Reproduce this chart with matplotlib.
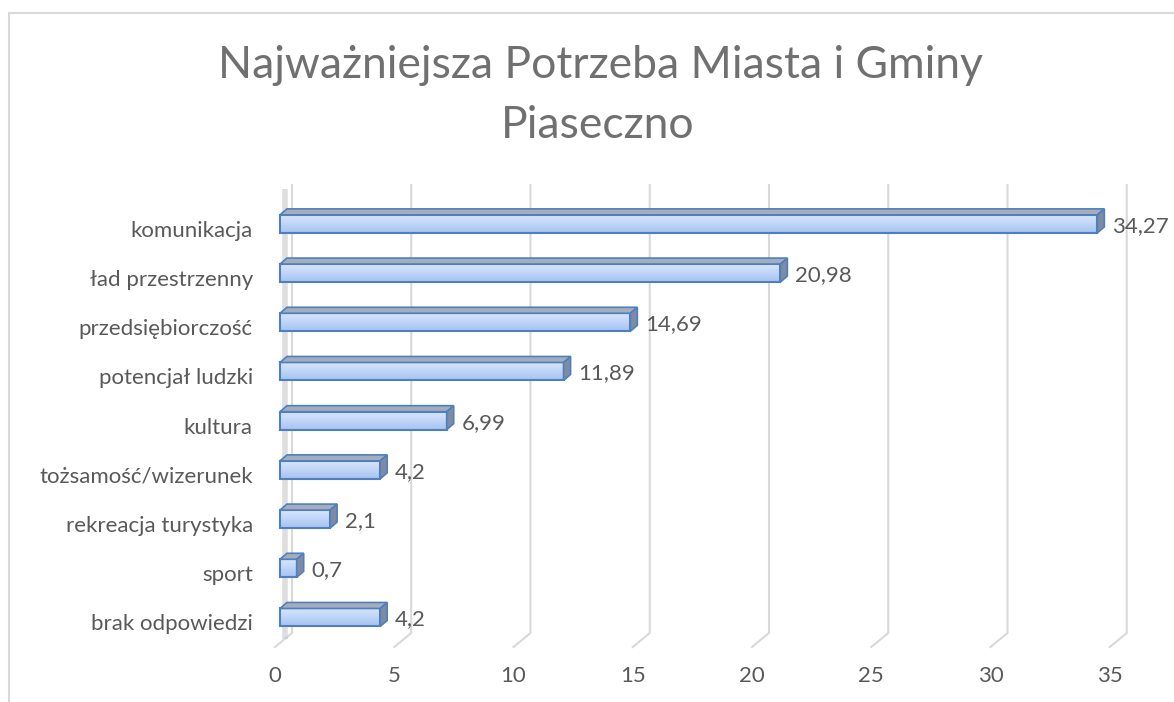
import matplotlib.pyplot as plt
from matplotlib.patches import Polygon, Rectangle
import numpy as np

categories = ['komunikacja', 'ład przestrzenny', 'przedsiębiorczość', 'potencjał ludzki',
              'kultura', 'tożsamość/wizerunek', 'rekreacja turystyka', 'sport', 'brak odpowiedzi']
values = [34.27, 20.98, 14.69, 11.89, 6.99, 4.2, 2.1, 0.7, 4.2]
value_labels = ['34,27', '20,98', '14,69', '11,89', '6,99', '4,2', '2,1', '0,7', '4,2']
xticks = [0, 5, 10, 15, 20, 25, 30, 35]

plt.rcParams['font.family'] = ['Lato', 'DejaVu Sans']
text_col = '#595959'
grid_col = '#d9d9d9'

W, H = 1174, 702
fig = plt.figure(figsize=(W / 100, H / 100), dpi=100)

# chart border (clipped at right/bottom like the screenshot)
fig.patches.append(Rectangle((9 / W, -0.05), 1.1, 1 - 13 / H + 0.05, transform=fig.transFigure,
                             fill=False, edgecolor=grid_col, lw=1.5))

fig.text(600 / W, 1 - 78 / H, 'Najważniejsza Potrzeba Miasta i Gminy', ha='center', va='baseline',
         fontsize=32, color='#707070')
fig.text(598 / W, 1 - 138 / H, 'Piaseczno', ha='center', va='baseline',
         fontsize=32, color='#707070')

px = 23.85  # pixels per unit
row = 49.2  # pixels per row
ax = fig.add_axes([275 / W, 1 - 647 / H, (35 * px) / W, (647 - 185) / H])
ax.set_xlim(0, 35)
ax.set_ylim(8.6, -0.79)
for s in ax.spines.values():
    s.set_visible(False)

# depth of back plane and bars
gdx, gdy = 17 / px, 14 / row
bdx, bdy = 7 / px, 6 / row
off = 5 / px
h = 18 / row
floor = 8.6

# gridlines: floor diagonal then back vertical
for t in xticks:
    ax.plot([t, t + gdx, t + gdx], [floor, floor - gdy, -0.79], color=grid_col, lw=1.5,
            clip_on=False, zorder=1)
# left wall shading
ax.plot([0.42, 0.42], [-0.7, floor - gdy * 0.6], color='#bfbfbf', lw=4, alpha=0.5,
        solid_capstyle='butt', zorder=1)

grad = np.linspace(0, 1, 50).reshape(-1, 1)
cmap = plt.matplotlib.colors.LinearSegmentedColormap.from_list('b', ['#dce8fd', '#a5c3f3'])
edge = '#4f7fbe'
for i, v in enumerate(values):
    x0, x1 = off, off + v
    yt, yb = i - h / 2, i + h / 2
    ax.imshow(grad, cmap=cmap, aspect='auto', extent=(x0, x1, yb, yt), zorder=3,
              interpolation='bilinear')
    ax.add_patch(Rectangle((x0, yt), v, h, fill=False, edgecolor=edge, lw=1.5, zorder=4))
    ax.add_patch(Polygon([(x0, yt), (x0 + bdx, yt - bdy), (x1 + bdx, yt - bdy), (x1, yt)],
                         facecolor='#a4adbb', edgecolor=edge, lw=1.2, zorder=4))
    ax.add_patch(Polygon([(x1, yt), (x1 + bdx, yt - bdy), (x1 + bdx, yb - bdy), (x1, yb)],
                         facecolor='#7d8ca3', edgecolor=edge, lw=1.2, zorder=4))
    ax.text(x1 + bdx + 8 / px, i + 0.04, value_labels[i], va='center', ha='left',
            fontsize=16, color=text_col, zorder=5)

ax.set_xlim(0, 35)
ax.set_ylim(8.6, -0.79)
ax.set_yticks([i + 0.1 for i in range(len(categories))])
ax.set_yticklabels(categories)
ax.set_xticks(xticks)
ax.set_xticklabels([str(t) for t in xticks])
ax.tick_params(axis='y', length=0, pad=16, labelsize=16, labelcolor=text_col)
ax.tick_params(axis='x', length=0, pad=14, labelsize=16, labelcolor=text_col)

fig.savefig('out.png', dpi=100)
